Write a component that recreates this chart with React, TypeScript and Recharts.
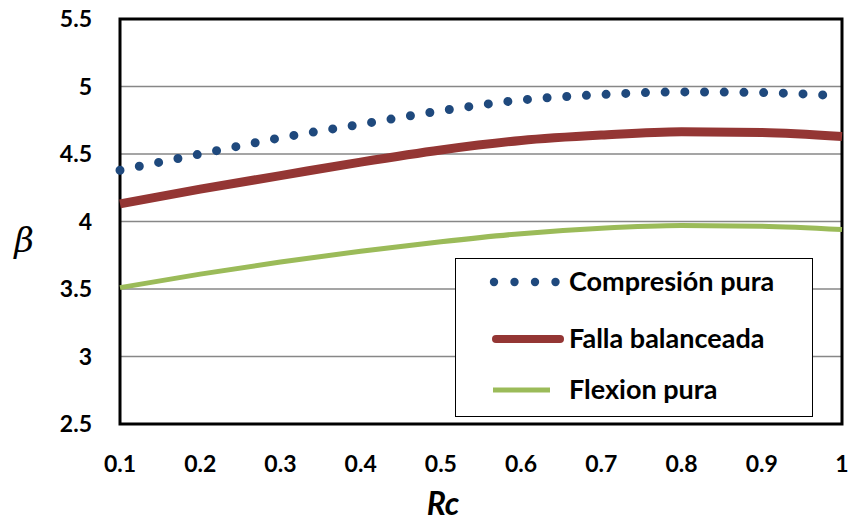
import { LineChart, Line, XAxis, YAxis, CartesianGrid, ReferenceArea } from 'recharts'

const rc = [0.1, 0.2, 0.3, 0.4, 0.5, 0.6, 0.7, 0.8, 0.9, 1]
const compresionPura = [4.38, 4.5, 4.62, 4.72, 4.82, 4.9, 4.94, 4.96, 4.955, 4.93]
const fallaBalanceada = [4.13, 4.24, 4.34, 4.44, 4.53, 4.6, 4.64, 4.665, 4.66, 4.63]
const flexionPura = [3.51, 3.61, 3.7, 3.78, 3.85, 3.91, 3.95, 3.97, 3.965, 3.94]
const seriesNames = ['Compresión pura', 'Falla balanceada', 'Flexion pura']
const xTicks = [0.1, 0.2, 0.3, 0.4, 0.5, 0.6, 0.7, 0.8, 0.9, 1]
const yTicks = [2.5, 3, 3.5, 4, 4.5, 5, 5.5]

const data = rc.map((x, i) => ({
    rc: x,
    comp: compresionPura[i],
    falla: fallaBalanceada[i],
    flex: flexionPura[i],
}))

const FONT = 'Lato, "Open Sans", sans-serif'
const BLUE = '#1F497D'
const RED = '#943634'
const GREEN = '#9BBB59'

const LegendBox = () => {
    const rows = [
        { label: seriesNames[0], color: BLUE, kind: 'dots' },
        { label: seriesNames[1], color: RED, kind: 'thick' },
        { label: seriesNames[2], color: GREEN, kind: 'thin' },
    ]
    return (
        <div style={{ position: 'absolute', left: 455, top: 258, width: 358, height: 159, border: '1.5px solid #000', background: '#fff', boxSizing: 'border-box' }}>
            <svg width={355} height={156} style={{ display: 'block' }}>
                {rows.map((r, i) => {
                    const y = [23, 80, 131][i]
                    return (
                        <g key={r.label}>
                            {r.kind === 'dots' && [0, 1, 2, 3].map(k => (
                                <circle key={k} cx={38 + k * 20.5} cy={y} r={4.2} fill={r.color} />
                            ))}
                            {r.kind === 'thick' && (
                                <line x1={40} x2={104} y1={y} y2={y} stroke={r.color} strokeWidth={8} strokeLinecap="round" />
                            )}
                            {r.kind === 'thin' && (
                                <line x1={37} x2={94} y1={y} y2={y} stroke={r.color} strokeWidth={5} />
                            )}
                            <text x={113} y={y} dy="0.35em" fontFamily={FONT} fontWeight={700} fontSize={27} fill="#000">
                                {r.label}
                            </text>
                        </g>
                    )
                })}
            </svg>
        </div>
    )
}

export default function App() {
    return (
        <div style={{ position: 'absolute', left: 0, top: 0, width: 850, height: 525, background: '#fff' }}>
            <LineChart width={850} height={525} data={data} margin={{ top: 19, right: 8, left: 0, bottom: 0 }}>
                <CartesianGrid horizontal vertical={false} stroke="#878787" strokeWidth={1.5} />
                <XAxis
                    dataKey="rc"
                    type="number"
                    domain={[0.1, 1]}
                    ticks={xTicks}
                    height={101}
                    axisLine={false}
                    tickLine={false}
                    tickSize={0}
                    tickMargin={32}
                    interval={0}
                    tick={{ fill: '#000', fontSize: 23, fontWeight: 700, fontFamily: FONT }}
                    label={{
                        content: () => (
                            <text x={443} y={504} textAnchor="middle" dy="0.35em" fontFamily={FONT} fontWeight={700} fontStyle="italic" fontSize={32} fill="#000">Rc</text>
                        ),
                    }}
                />
                <YAxis
                    type="number"
                    domain={[2.5, 5.5]}
                    ticks={yTicks}
                    width={120}
                    axisLine={false}
                    tickLine={false}
                    tickSize={0}
                    tickMargin={28}
                    interval={0}
                    tick={{ fill: '#000', fontSize: 23, fontWeight: 700, fontFamily: FONT }}
                    label={{
                        content: () => (
                            <text x={24} y={240} textAnchor="middle" dy="0.35em" fontFamily='"DejaVu Serif", serif' fontStyle="italic" fontSize={34} fill="#000">β</text>
                        ),
                    }}
                />
                <ReferenceArea x1={0.1} x2={1} y1={2.5} y2={5.5} fill="none" stroke="#000" strokeWidth={3} ifOverflow="visible" />
                <Line dataKey="flex" name={seriesNames[2]} type="monotone" stroke={GREEN} strokeWidth={5} dot={false} isAnimationActive={false} />
                <Line dataKey="falla" name={seriesNames[1]} type="monotone" stroke={RED} strokeWidth={9} dot={false} isAnimationActive={false} />
                <Line dataKey="comp" name={seriesNames[0]} type="monotone" stroke={BLUE} strokeWidth={9} strokeDasharray="0 19.7" strokeLinecap="round" dot={false} isAnimationActive={false} />
            </LineChart>
            <LegendBox />
        </div>
    )
}
